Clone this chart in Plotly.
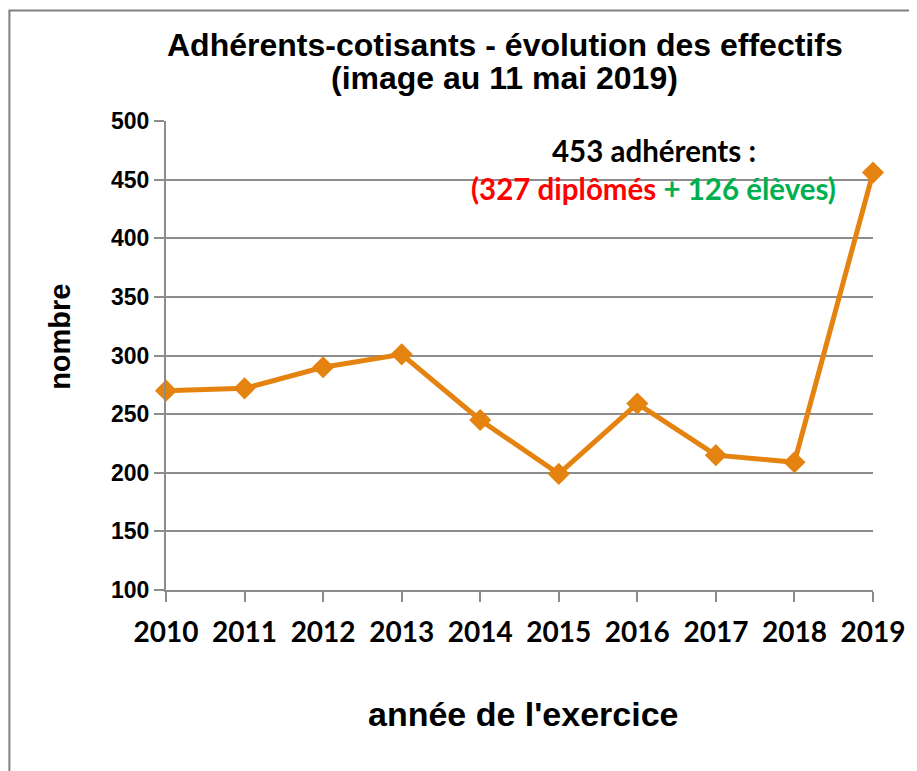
import plotly.graph_objects as go

years = [2010, 2011, 2012, 2013, 2014, 2015, 2016, 2017, 2018, 2019]
adherents = [270, 272, 290, 301, 245, 199, 259, 215, 209, 456]
y_ticks = [100, 150, 200, 250, 300, 350, 400, 450, 500]

orange = "#E4830F"
grid = "#8C8C8C"

fig = go.Figure()
fig.add_trace(go.Scatter(
    x=years, y=adherents, mode="lines+markers",
    line=dict(color=orange, width=5),
    marker=dict(symbol="diamond", size=17, color=orange),
    showlegend=False, cliponaxis=False,
))

# the page body adds ~8px offset, so the figure is a bit smaller than the window
fig.update_layout(
    width=909, height=763,
    margin=dict(l=158, r=39, t=113, b=181),
    paper_bgcolor="white", plot_bgcolor="white",
    font=dict(family="Liberation Sans", color="black"),
)

fig.update_xaxes(
    range=[2010, 2019], tickmode="array", tickvals=years,
    ticktext=[f"<b>{y}</b>" for y in years],
    tickfont=dict(family="Lato", size=28, color="black"),
    ticks="outside", ticklen=10, tickwidth=2, tickcolor=grid,
    ticklabelstandoff=6,
    showline=True, linecolor=grid, linewidth=2, showgrid=False,
    zeroline=False,
)
fig.update_yaxes(
    range=[100, 500], tickmode="array", tickvals=y_ticks,
    ticktext=[f"<b>{v}</b>" for v in y_ticks],
    tickfont=dict(family="Liberation Sans", size=23, color="black"),
    ticks="outside", ticklen=10, tickwidth=2, tickcolor=grid,
    showline=True, linecolor=grid, linewidth=2,
    showgrid=True, gridcolor=grid, gridwidth=2, zeroline=False,
)

def label(text, x, y, size, family="Liberation Sans", angle=0):
    fig.add_annotation(xref="paper", yref="paper", x=x, y=y, showarrow=False,
                       xanchor="center", yanchor="middle",
                       text=text, textangle=angle,
                       font=dict(family=family, size=size, color="black"))

# title
label("<b>Adhérents-cotisants - évolution des effectifs</b>", 0.479, 1.162, 32)
label("<b>(image au 11 mai 2019)</b>", 0.479, 1.092, 32)
# axis titles
label("<b>année de l'exercice</b>", 0.5056, -0.2644, 34)
label("<b>nombre</b>", -0.149, 0.539, 29, angle=-90)
# callout
label("<b>453 adhérents :</b>", 0.6896, 0.938, 29.5, family="Lato")
label("<b><span style='color:#FF0000'>(327 diplômés</span> "
      "<span style='color:#00B050'>+ 126 élèves)</span></b>",
      0.6896, 0.857, 29.5, family="Lato")

# chart frame
fig.add_shape(type="rect", xref="paper", yref="paper",
              x0=-0.2215, x1=1.2, y0=-0.6, y1=1.2356,
              line=dict(color="#808080", width=2), layer="below")

fig.write_html("out.html")
